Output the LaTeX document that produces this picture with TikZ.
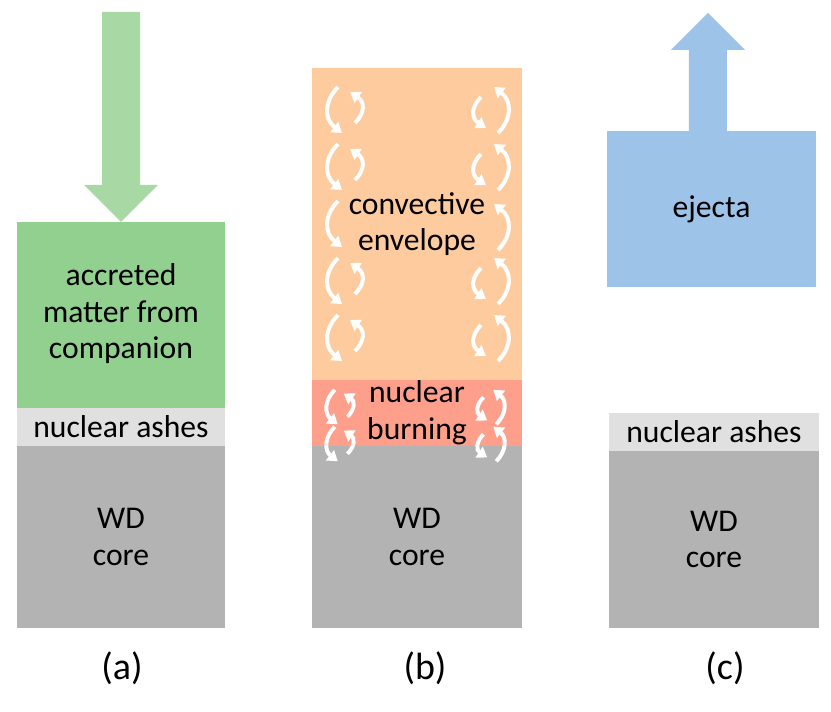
\documentclass[tikz,border=0pt]{standalone}
\usepackage{fontspec}
\setmainfont{Carlito}
\usetikzlibrary{arrows.meta,positioning,calc}
\definecolor{Accreted}{HTML}{92D08F}
\definecolor{Infall}{HTML}{A8D8A4}
\definecolor{Ashes}{HTML}{E0E0E0}
\definecolor{Core}{HTML}{B3B3B3}
\definecolor{Envelope}{HTML}{FECB9E}
\definecolor{Burning}{HTML}{FE9F8C}
\definecolor{Ejecta}{HTML}{9EC3E8}
\tikzset{
  plume/.pic={
    \draw[swirl] (-7,-23) .. controls (-21,-9) and (-21,9) .. (-3,23);
  },
  eddy/.pic={
    \draw[swirl] (-7,-23) .. controls (-21,-9) and (-21,9) .. (-3,23);
    \draw[swirl] (10,13) .. controls (20,3) and (20,-8) .. (5,-18);
  }
}

\begin{document}
\begin{tikzpicture}[x=0.025cm,y=-0.025cm,
    layer/.style={minimum width=5.2cm,inner sep=0pt,outer sep=0pt,align=center,font=\fontsize{22.5}{26}\selectfont},
    tag/.style={font=\fontsize{27}{30}\selectfont},
    swirl/.style={white,line width=2.8pt,-{Triangle[length=7pt,width=9pt]}}]
    \useasboundingbox (0,0) rectangle (831,712);
    % (a) accretion
    \node[layer,fill=Accreted,minimum height=4.65cm] (accreted) at (121,315) {\raisebox{-0.15cm}{\begin{tabular}{@{}c@{}}accreted\\matter from\\companion\end{tabular}}};
    \node[layer,fill=Ashes,minimum height=0.95cm] (ashesA) at (121,427) {nuclear ashes};
    \node[layer,fill=Core,minimum height=4.55cm] (coreA) at (121,537) {WD\\core};
    \fill[Infall] (accreted.north) -- ++(-37,-37) -- ++(18,0) -- ++(0,-173) -- ++(38,0) -- ++(0,173) -- ++(18,0) -- cycle;
    % (b) runaway
    \node[layer,fill=Envelope,minimum width=5.25cm,minimum height=7.8cm] (envelope) at (417,224) {convective\\envelope};
    \node[layer,fill=Burning,minimum width=5.25cm,minimum height=1.65cm] (burning) at (417,413) {nuclear\\burning};
    \node[layer,fill=Core,minimum width=5.25cm,minimum height=4.55cm] (coreB) at (417,537) {WD\\core};
    \foreach \y in {110,167,281,338}{
      \pic at (345,\y) {eddy};
      \pic[rotate=180] at (491,\y) {eddy};
    }
    \pic at (345,224) {plume};
    \pic[rotate=180] at (491,227) {plume};
    \foreach \y in {407,444}{
      \pic[scale=0.75] at (340,\y) {eddy};
      \pic[scale=0.75,rotate=180] at (491,\y) {eddy};
    }
    % (c) ejection
    \node[layer,fill=Ejecta,minimum width=5.225cm,minimum height=3.9cm] (ejecta) at (711.5,209) {ejecta};
    \node[layer,fill=Ashes,minimum width=5.25cm,minimum height=0.95cm] (ashesC) at (714,432) {nuclear ashes};
    \node[layer,fill=Core,minimum width=5.25cm,minimum height=4.425cm] (coreC) at (714,539.5) {WD\\core};
    \fill[Ejecta] ([xshift=-0.5625cm]ejecta.north) -- ++(0,-81) -- ++(-18,0) -- ++(37,-37) -- ++(37,37) -- ++(-18,0) -- ++(0,81) -- cycle;
    % panel tags
    \node[tag] (tagA) at (122,668) {(a)};
    \node[tag] (tagB) at (425,668) {(b)};
    \node[tag] (tagC) at (725,668) {(c)};
  \end{tikzpicture}
\end{document}
